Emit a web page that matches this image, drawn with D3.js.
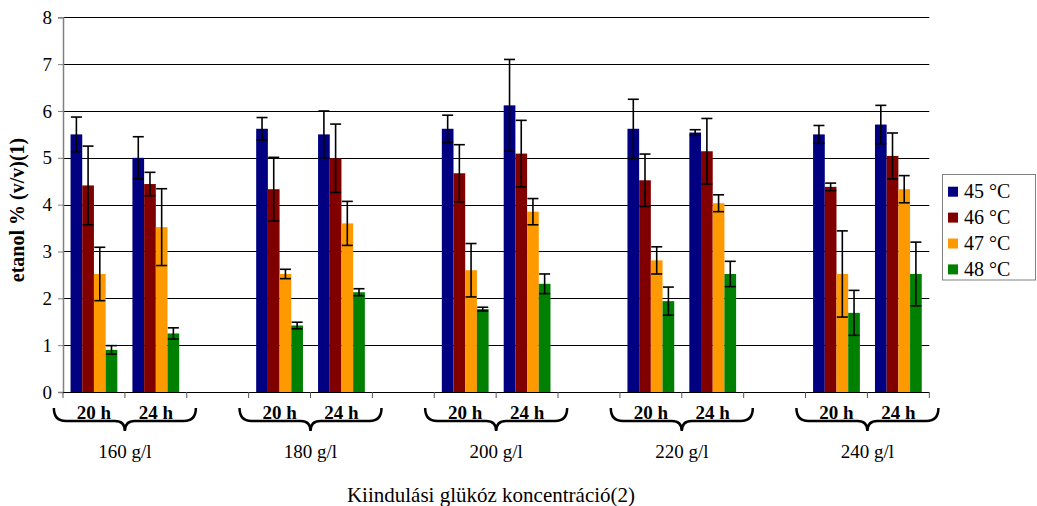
<!DOCTYPE html>
<html><head><meta charset="utf-8">
<script src="https://cdn.jsdelivr.net/npm/d3@7"></script>
<style>body{margin:0;background:#fff}text{font-family:"Liberation Serif","Tinos","Times New Roman","DejaVu Serif",serif}</style>
</head><body><svg id="c" width="1037" height="506"></svg>
<script>
const groups = ["160 g/l","180 g/l","200 g/l","220 g/l","240 g/l"];
const times = ["20 h","24 h"];
const series = ["45 °C","46 °C","47 °C","48 °C"];
const colors = ["#000080","#800000","#ff9900","#008000"];
const yTicks = [0,1,2,3,4,5,6,7,8];
// values in order 160-20h,160-24h,180-20h,180-24h,...
const v45 = [5.50,5.00,5.62,5.50,5.62,6.12,5.62,5.54,5.50,5.71];
const v46 = [4.41,4.44,4.33,4.99,4.67,5.09,4.52,5.14,4.38,5.04];
const v47 = [2.52,3.52,2.52,3.60,2.60,3.85,2.81,4.03,2.52,4.33];
const v48 = [0.90,1.25,1.42,2.13,1.77,2.31,1.94,2.52,1.69,2.52];
const e45 = [0.37,0.45,0.24,0.50,0.29,0.98,0.63,0.06,0.19,0.41];
const e46 = [0.84,0.25,0.68,0.73,0.61,0.71,0.56,0.70,0.08,0.49];
const e47 = [0.57,0.82,0.10,0.47,0.57,0.28,0.29,0.18,0.92,0.29];
const e48 = [0.09,0.12,0.07,0.075,0.04,0.21,0.30,0.27,0.48,0.68];
const values = [v45,v46,v47,v48];
const errors = [e45,e46,e47,e48];

const FONT = '"Liberation Serif","Tinos","Times New Roman","DejaVu Serif",serif';
const svg = d3.select("#c").attr("font-family",FONT);
const L=63, R=929.3, T=17.3, B=392;

const slots = [];
groups.forEach((g,gi)=>{
  times.forEach(t=>slots.push(g+"|"+t));
  if(gi<groups.length-1) slots.push("gap"+gi);
});
const x = d3.scaleBand().domain(slots).range([L,R]).padding(0);
const xs = d3.scaleBand().domain(series).range([0,x.bandwidth()]).paddingInner(0).paddingOuter(0.645);
const y = d3.scaleLinear().domain([0,8]).range([B,T]);

svg.append("g").selectAll("line").data(yTicks.filter(d=>d>0)).join("line")
  .attr("x1",L).attr("x2",R).attr("y1",d=>Math.round(y(d))+0.5).attr("y2",d=>Math.round(y(d))+0.5)
  .attr("stroke","#000").attr("stroke-width",1);

const data = [];
series.forEach((s,si)=>{
  let k=0;
  groups.forEach(g=>times.forEach(t=>{
    data.push({key:g+"|"+t, s, si, v:values[si][k], e:errors[si][k]}); k++;
  }));
});
svg.append("g").selectAll("rect").data(data).join("rect")
  .attr("x",d=>x(d.key)+xs(d.s)).attr("width",xs.bandwidth())
  .attr("y",d=>y(d.v)).attr("height",d=>y(0)-y(d.v))
  .attr("fill",d=>colors[d.si]);

const eg = svg.append("g").attr("stroke","#000").attr("stroke-width",1.6).attr("fill","none");
data.forEach(d=>{
  const cx = x(d.key)+xs(d.s)+xs.bandwidth()/2;
  const y1=y(d.v+d.e), y2=y(d.v-d.e);
  eg.append("line").attr("x1",cx).attr("x2",cx).attr("y1",y1).attr("y2",y2);
  eg.append("line").attr("x1",cx-5.5).attr("x2",cx+5.5).attr("y1",y1).attr("y2",y1);
  eg.append("line").attr("x1",cx-5.5).attr("x2",cx+5.5).attr("y1",y2).attr("y2",y2);
});

const yAxis = d3.axisLeft(y).tickValues(yTicks).tickSize(5).tickPadding(6).tickFormat(d3.format("d"));
const ya = svg.append("g").attr("transform",`translate(${L},0)`).call(yAxis);
ya.attr("font-family",FONT);
ya.select(".domain").attr("stroke","#808080").attr("stroke-width",1.5);
ya.selectAll(".tick line").attr("stroke","#808080");
ya.selectAll(".tick text").attr("font-size",19).attr("fill","#000");

const bounds = slots.map(s=>x(s)).concat([R]);
const xa = svg.append("g");
xa.append("line").attr("x1",L).attr("x2",R).attr("y1",B+0.5).attr("y2",B+0.5).attr("stroke","#000").attr("stroke-width",1.2);
xa.selectAll("line.t").data(bounds).join("line").attr("class","t")
  .attr("x1",d=>d).attr("x2",d=>d).attr("y1",B).attr("y2",B+6).attr("stroke","#555");

const tl = [];
groups.forEach(g=>times.forEach(t=>tl.push({key:g+"|"+t,t})));
svg.append("g").selectAll("text").data(tl).join("text")
  .attr("x",d=>x(d.key)+x.bandwidth()/2).attr("y",419)
  .attr("text-anchor","middle").attr("font-weight","bold").attr("font-size",19).text(d=>d.t);

const bg = svg.append("g");
groups.forEach(g=>{
  const xc = x(g+"|"+times[1]);
  const x0 = xc-71, x1 = xc+71;
  bg.append("path")
    .attr("d",`M${x0},408 Q${x0},421 ${x0+12},421 L${xc-10},421 Q${xc},421 ${xc},431 Q${xc},421 ${xc+10},421 L${x1-12},421 Q${x1},421 ${x1},408`)
    .attr("fill","none").attr("stroke","#000").attr("stroke-width",2.5);
  bg.append("text").attr("x",xc).attr("y",458).attr("text-anchor","middle").attr("font-size",19).text(g);
});

svg.append("text").attr("x",491).attr("y",502).attr("text-anchor","middle").attr("font-size",21)
  .text("Kiindulási glükóz koncentráció(2)");
svg.append("text").attr("transform","translate(24,210) rotate(-90)").attr("text-anchor","middle")
  .attr("font-size",20).attr("font-weight","bold").text("etanol % (v/v)(1)");

const lg = svg.append("g");
lg.append("rect").attr("x",942.5).attr("y",174.5).attr("width",93).attr("height",105.5)
  .attr("fill","#fff").attr("stroke","#808080").attr("stroke-width",1);
series.forEach((s,i)=>{
  const cy = 191.7 + i*25.9;
  lg.append("rect").attr("x",948).attr("y",cy-5).attr("width",10).attr("height",10).attr("fill",colors[i]);
  lg.append("text").attr("x",964).attr("y",cy+6.5).attr("font-size",20).text(s);
});
</script></body></html>
